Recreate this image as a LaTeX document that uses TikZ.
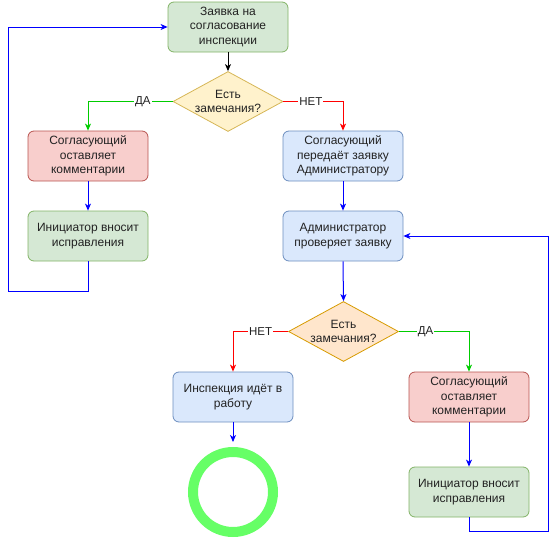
\documentclass[tikz,border=0pt]{standalone}
\usepackage{fontspec}
\setmainfont{Liberation Sans}
\usetikzlibrary{shapes.geometric,arrows.meta}
\definecolor{gfill}{HTML}{D5E8D4}\definecolor{gline}{HTML}{82B366}
\definecolor{rfill}{HTML}{F8CECC}\definecolor{rline}{HTML}{B85450}
\definecolor{bfill}{HTML}{DAE8FC}\definecolor{bline}{HTML}{6C8EBF}
\definecolor{yfill}{HTML}{FFF2CC}\definecolor{yline}{HTML}{D6B656}
\definecolor{ofill}{HTML}{FFE6CC}\definecolor{oline}{HTML}{D79B00}
\definecolor{ring}{HTML}{66FF66}
\definecolor{agreen}{HTML}{00CC00}
\definecolor{txt}{HTML}{222222}
\tikzset{
  box/.style={rectangle,rounded corners=6pt,minimum width=120pt,minimum height=50pt,align=center,
    font=\fontsize{12}{14.3}\selectfont,text=txt,line width=0.8pt,inner sep=1pt},
  gbox/.style={box,fill=gfill,draw=gline},
  rbox/.style={box,fill=rfill,draw=rline},
  bbox/.style={box,fill=bfill,draw=bline},
  dec/.style={diamond,aspect=1.8333,minimum width=110pt,minimum height=60pt,inner sep=0pt,line width=0.8pt},
  dectext/.style={align=center,font=\fontsize{12}{14.3}\selectfont,text=txt,inner sep=0pt},
  conn/.style={line width=1pt,-{Stealth[length=7pt,width=6pt,inset=2pt]}},
  lbl/.style={fill=white,inner sep=1pt,font=\fontsize{11.5}{12}\selectfont,text=txt},
}
\begin{document}
\begin{tikzpicture}[x=1pt,y=-1pt]
\useasboundingbox (0,0) rectangle (558,541);
\node[gbox] (start) at (228,27) {Заявка на\\согласование\\инспекции};
\node[dec,fill=yfill,draw=yline,label={[dectext]center:Есть\\замечания?}] (d1) at (228,101.5) {};
\node[rbox] (r1) at (88,156) {Согласующий\\оставляет\\комментарии};
\node[gbox] (g1) at (88,236) {Инициатор вносит\\исправления};
\node[bbox] (b1) at (343,156) {Согласующий\\передаёт заявку\\Администратору};
\node[bbox] (b2) at (343,236) {Администратор\\проверяет заявку};
\node[dec,fill=ofill,draw=oline,label={[dectext]center:Есть\\замечания?}] (d2) at (343.5,331.5) {};
\node[bbox] (b3) at (233,397) {Инспекция идёт в\\работу};
\node[rbox] (r2) at (469,397) {Согласующий\\оставляет\\комментарии};
\node[gbox] (g2) at (469,492) {Инициатор вносит\\исправления};
\node[circle,draw=ring,line width=10pt,minimum size=80pt,inner sep=0pt] (end) at (233,492) {};
\coordinate (c1) at (8,291);
\coordinate (c2) at (548,531);

\draw[conn,black] (start) -- (d1);
\draw[conn,agreen] (d1.west) -| node[lbl,pos=0.176] {ДА} (r1.north);
\draw[conn,red] (d1.east) -| node[lbl,pos=0.23] {НЕТ} (b1.north);
\draw[conn,blue] (r1) -- (g1);
\draw[conn,blue] (g1.south) |- (c1) |- (start.west);
\draw[conn,blue] (b1) -- (b2);
\draw[conn,blue] (b2.south) -- (d2.north);
\draw[conn,red] (d2.west) -| node[lbl,pos=0.25] {НЕТ} (b3.north);
\draw[conn,agreen] (d2.east) -| node[lbl,pos=0.19] {ДА} (r2.north);
\draw[conn,blue,shorten >=5pt] (b3.south) -- (end.north);
\draw[conn,blue] (r2) -- (g2);
\draw[conn,blue] (g2.south) |- (c2) |- (b2.east);
\end{tikzpicture}
\end{document}
